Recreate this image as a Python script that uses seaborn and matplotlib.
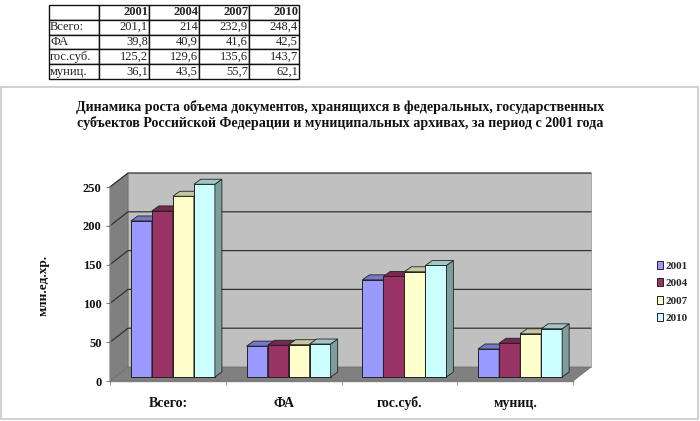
import matplotlib
matplotlib.use('Agg')
import matplotlib.pyplot as plt
from matplotlib.patches import Polygon, Rectangle
from matplotlib.colors import to_rgb
import pandas as pd
import seaborn as sns

# Data
categories = ['Всего:', 'ФА', 'гос.суб.', 'муниц.']
years = ['2001', '2004', '2007', '2010']
values_2001 = [201.1, 39.8, 125.2, 36.1]
values_2004 = [214, 40.9, 129.6, 43.5]
values_2007 = [232.9, 41.6, 135.6, 55.7]
values_2010 = [248.4, 42.5, 143.7, 62.1]
table_2001 = ['201,1', '39,8', '125,2', '36,1']
table_2004 = ['214', '40,9', '129,6', '43,5']
table_2007 = ['232,9', '41,6', '135,6', '55,7']
table_2010 = ['248,4', '42,5', '143,7', '62,1']
colors = ['#9999FF', '#993366', '#FFFFCC', '#CCFFFF']
title = ('Динамика роста объема документов, хранящихся в федеральных, государственных\n'
         'субъектов Российской Федерации и муниципальных архивах, за период с 2001 года')

W, H = 700, 421
sns.set_theme(style='white')
plt.rcParams['font.family'] = ['Liberation Serif', 'DejaVu Serif']

df = pd.DataFrame({
    'cat': categories * 4,
    'year': [y for y in years for _ in categories],
    'val': values_2001 + values_2004 + values_2007 + values_2010,
})

fig = plt.figure(figsize=(W / 100, H / 100), dpi=100)

def box(x0, y0, x1, y1):
    # pixel box (top-left origin) to figure fractions
    return [x0 / W, 1 - y1 / H, (x1 - x0) / W, (y1 - y0) / H]

# chart frame
fig.add_artist(Rectangle((1 / W, 1 - 419 / H), 697 / W, 332 / H, transform=fig.transFigure,
                         facecolor='white', edgecolor='#c8c8c8', lw=1.2, zorder=-1))

# table on top
tab_ax = fig.add_axes(box(49, 5, 299, 79))
tab_ax.axis('off')
rows = [['', *years]] + [list(r) for r in zip(categories, table_2001, table_2004, table_2007, table_2010)]
tbl = tab_ax.table(cellText=rows, bbox=[0, 0, 1, 1], cellLoc='right')
tbl.auto_set_font_size(False)
for (r, c), cell in tbl.get_celld().items():
    cell.set_linewidth(1.0)
    cell.set_edgecolor('#111111')
    cell.PAD = 0.02
    cell.get_text().set_fontsize(9)
    cell.get_text().set_color('#222222')
    if c == 0:
        cell.get_text().set_ha('left')
        cell._loc = 'left'
    if r == 0:
        cell.get_text().set_fontweight('bold')

# main axes: front plane of the 3D box
ax = fig.add_axes(box(110, 187, 573, 381))
sns.barplot(data=df, x='cat', y='val', hue='year', palette=colors, saturation=1,
            width=0.726, gap=0, edgecolor='#222222', linewidth=0.7, ax=ax, zorder=5)
ax.set_xlim(-0.5, 3.5)
ax.set_ylim(0, 250)

px_x = 4 / 463
px_y = 250 / 194
depth_x, depth_y = 18 * px_x, 14 * px_y   # box depth
bar_dx, bar_dy = 5 * px_x, 4 * px_y       # bars sit inside the box
side_x, side_y = 7 * px_x, 5 * px_y       # bar depth

x0, x1 = -0.5, 3.5
top = 250
ax.add_patch(Polygon([(x0 + depth_x, depth_y), (x1 + depth_x, depth_y),
                      (x1 + depth_x, top + depth_y), (x0 + depth_x, top + depth_y)],
                     facecolor='#C0C0C0', edgecolor='#a0a0a0', lw=0.6, clip_on=False, zorder=1))
ax.add_patch(Polygon([(x0, 0), (x0 + depth_x, depth_y), (x0 + depth_x, top + depth_y), (x0, top)],
                     facecolor='#808080', edgecolor='#707070', lw=0.6, clip_on=False, zorder=1))
ax.add_patch(Polygon([(x0, 0), (x1, 0), (x1 + depth_x, depth_y), (x0 + depth_x, depth_y)],
                     facecolor='#808080', edgecolor='#707070', lw=0.6, clip_on=False, zorder=2))

yticks = [0, 50, 100, 150, 200, 250]
for t in yticks[1:]:
    ax.plot([x0, x0 + depth_x, x1 + depth_x], [t, t + depth_y, t + depth_y],
            color='#333333', lw=0.9, clip_on=False, zorder=2)

# shift bars and add the side and top faces
bars = sorted([p for c in ax.containers for p in c], key=lambda p: p.get_x())
for i, p in enumerate(bars):
    p.set_y(p.get_y() + bar_dy)
    p.set_x(p.get_x() + bar_dx)
    p.set_clip_on(False)
    p.set_zorder(5 + i * 0.01)
    bx, by, bw, bh = p.get_x(), p.get_y(), p.get_width(), p.get_height()
    rgb = to_rgb(p.get_facecolor()[:3])
    ax.add_patch(Polygon([(bx + bw, by), (bx + bw + side_x, by + side_y),
                          (bx + bw + side_x, by + bh + side_y), (bx + bw, by + bh)],
                         facecolor=[v * 0.62 for v in rgb], edgecolor='#222222', lw=0.6,
                         clip_on=False, zorder=5 + i * 0.01))
    ax.add_patch(Polygon([(bx, by + bh), (bx + bw, by + bh),
                          (bx + bw + side_x, by + bh + side_y), (bx + side_x, by + bh + side_y)],
                         facecolor=[v * 0.78 for v in rgb], edgecolor='#222222', lw=0.6,
                         clip_on=False, zorder=5 + i * 0.01))

for s in ['top', 'right']:
    ax.spines[s].set_visible(False)
for s in ['left', 'bottom']:
    ax.spines[s].set_color('#808080')
    ax.spines[s].set_linewidth(1.0)
    ax.spines[s].set_zorder(3)
ax.patch.set_visible(False)

ax.set_yticks(yticks)
ax.set_yticklabels([str(t) for t in yticks], fontsize=9, fontweight='bold', color='#111111')
ax.set_xticks(range(4))
ax.set_xticklabels(categories, fontsize=10, fontweight='bold', color='#111111')
for lab in ax.get_xticklabels():
    lab.set_va('baseline')
ax.set_xticks([-0.5, 0.5, 1.5, 2.5, 3.5], minor=True)
ax.tick_params(axis='y', left=True, length=3, width=0.8, color='#808080', pad=3)
ax.tick_params(axis='x', which='major', bottom=False, pad=13)
ax.tick_params(axis='x', which='minor', bottom=True, length=3, width=0.8, color='#a0a0a0')
ax.set_xlabel('')
ax.set_ylabel('')

fig.text(44 / W, 1 - 285 / H, 'млн.ед.хр.', rotation=90, ha='center', va='center',
         fontsize=9.5, fontweight='bold', color='#111111')
fig.text(340 / W, 1 - 115 / H, title, ha='center', va='center', fontsize=10.1,
         fontweight='bold', color='#111111', linespacing=1.15)

# legend
handles, labels = ax.get_legend_handles_labels()
ax.get_legend().remove()
leg = fig.legend(handles, labels, loc='center left', bbox_to_anchor=(657 / W, 1 - 292 / H),
                 frameon=False, handlelength=0.5, handleheight=0.7, handletextpad=0.3,
                 labelspacing=0.68, borderpad=0, borderaxespad=0,
                 prop={'size': 8, 'weight': 'bold'})

fig.savefig('out.png', dpi=100)
